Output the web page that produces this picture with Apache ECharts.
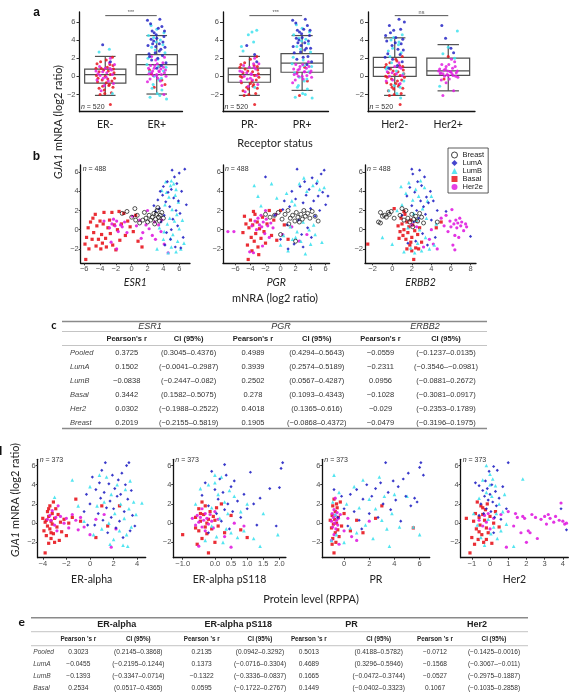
<!DOCTYPE html>
<html>
<head>
<meta charset="utf-8">
<script src="https://cdn.jsdelivr.net/npm/echarts@6/dist/echarts.min.js"></script>
<style>
  html, body { margin: 0; padding: 0; background: #fff; }
  #main { width: 571px; height: 699px; }
</style>
</head>
<body>
<div id="main"></div>
<script>
// ---------------- data ----------------
const SUBTYPES = ['Breast', 'LumA', 'LumB', 'Basal', 'Her2e'];

// a: receptor status boxplots (GJA1 log2 ratio)
const aCats = [['ER-', 'ER+'], ['PR-', 'PR+'], ['Her2-', 'Her2+']];
// [min, q1, median, q3, max]
const aBox = [
  [[-2.1, -0.75, 0.2, 0.8, 2.2], [-1.95, 0.2, 1.3, 2.4, 4.5]],
  [[-2.1, -0.65, 0.2, 0.9, 2.2], [-1.55, 0.45, 1.45, 2.5, 4.5]],
  [[-2.1, 0.0, 1.0, 2.1, 4.25], [-1.6, 0.1, 0.6, 2.0, 3.5]]
];
const aSig = ['***', '***', 'ns'];
const aSigY = 6.7;
const aN = 520;

// jittered points: [category position, GJA1]
const erBasal = [[-0.12,0.5],[0.05,-0.3],[0.15,1.2],[-0.05,-1.1],[0.1,0.2],[-0.15,-0.6],[0.02,1.8],[0.12,-1.8],[-0.08,0.9],[0.18,-0.2],[-0.1,-2.0],[0.06,0.6],[-0.02,-1.5],[0.14,2.1],[-0.16,1.4],[0.08,-0.9],[0.0,0.0],[-0.06,-0.4],[0.1,-3.1],[0.16,0.8],[-0.12,-1.3],[0.04,1.0],[0.9,0.3],[1.1,-0.4],[1.05,1.1],[0.95,-1.2],
  [-0.17,0.1],[0.07,-1.0],[-0.03,0.7],[0.13,-0.5],[-0.09,1.6],[0.17,0.4],[-0.14,-0.2],[0.02,-0.7],[0.09,1.3],[-0.01,-1.9],[0.15,-1.2],[-0.18,0.9],[1.16,-0.9],[0.86,0.7]];
const erHer2e = [[0.03,0.4],[-0.1,0.1],[0.12,0.7],[-0.04,-0.2],[0.08,1.5],[-0.14,0.3],[0.16,-0.8],[0.0,0.9],[-0.08,-1.6],[0.1,2.0],[0.06,-0.5],[-0.18,0.6],[0.85,0.3],[0.92,0.6],[1.0,0.1],[1.08,0.8],[1.15,0.4],[0.88,1.2],[1.02,-0.2],[1.12,1.5],[0.95,0.9],[1.18,0.0],[0.82,-0.6],[1.05,0.5],[0.98,1.8],[1.1,-1.0],[0.9,2.2],[1.14,-2.0],[1.0,0.2],
  [-0.05,0.5],[0.14,0.2],[-0.16,-0.4],[0.09,0.9],[-0.11,1.1],[0.02,-0.1],[0.18,1.3],[-0.02,-1.0],[0.84,0.9],[0.9,0.4],[0.96,1.2],[1.04,0.6],[1.09,0.2],[1.13,1.0],[1.17,0.7],[0.87,-0.3],[0.93,0.1],[1.01,1.4],[1.07,-0.5],[1.15,2.1]];
const erLumA = [[-0.05,3.5],[0.1,1.6],[0.85,2.5],[0.92,3.6],[1.0,4.2],[1.08,3.0],[1.15,5.0],[0.88,5.8],[1.02,2.0],[1.12,3.8],[0.95,4.8],[1.18,1.5],[0.82,6.2],[1.05,2.8],[0.98,3.3],[1.1,5.5],[0.9,1.8],[1.14,4.4],[1.0,0.9],[0.86,2.2],[1.06,6.3],[0.94,3.9],
  [0.83,3.4],[0.89,4.1],[0.97,2.6],[1.03,5.3],[1.09,1.2],[1.16,3.2],[0.91,5.0],[1.11,2.3],[0.99,4.6],[1.05,3.6]];
const erLumB = [[0.08,3.0],[-0.12,2.7],[0.14,-1.9],[0.84,4.5],[0.9,3.2],[1.03,1.1],[1.1,-1.5],[1.16,2.6],[0.87,-2.3],[1.0,5.2],[1.13,0.6],[0.93,-0.9],[1.07,4.0],[0.81,1.3],[1.19,-2.5],[0.97,2.9],[1.04,-0.4],[0.89,5.6],[1.12,3.5],[1.01,-1.9],[0.95,0.0],
  [0.83,2.0],[0.91,-1.3],[0.99,3.8],[1.06,-2.1],[1.14,4.8],[0.86,0.5],[1.02,1.9],[1.18,1.0],[0.94,4.3],[1.09,-0.2]];

const prBasal = [[-0.12,0.4],[0.05,-0.5],[0.15,1.1],[-0.05,-1.2],[0.1,0.1],[-0.15,-0.7],[0.02,1.9],[0.12,-1.9],[-0.08,0.8],[0.18,-0.1],[-0.1,-2.1],[0.06,0.5],[-0.02,-1.4],[0.14,2.2],[-0.16,1.3],[0.08,-0.9],[0.1,-3.1],[0.16,0.7],[-0.12,-1.6],[0.9,0.4],[1.1,-0.5],[1.05,1.0],[0.95,-2.1],
  [-0.17,0.0],[0.07,-1.1],[-0.03,0.6],[0.13,-0.4],[-0.09,1.5],[0.17,0.3],[-0.14,-0.1],[0.02,-0.8],[0.09,1.2],[-0.01,-2.0],[0.15,-1.3],[-0.18,1.0]];
const prHer2e = [[0.03,0.3],[-0.1,0.0],[0.12,0.8],[-0.04,-0.3],[0.08,1.4],[-0.14,0.5],[0.16,-0.9],[0.0,1.0],[-0.08,-1.7],[0.1,2.0],[0.06,-0.4],[-0.18,0.6],[0.04,0.2],[0.85,0.2],[0.92,0.7],[1.0,0.0],[1.08,0.9],[1.15,0.4],[0.88,1.3],[1.02,-0.3],[1.12,1.6],[0.95,0.8],[1.18,-0.1],[0.82,-0.7],[1.05,0.5],
  [-0.05,0.4],[0.14,0.1],[-0.16,-0.5],[0.09,1.0],[-0.11,1.2],[0.02,-0.2],[0.18,1.4],[-0.02,-1.1],[0.84,0.8],[0.9,0.3],[0.96,1.1],[1.04,0.5],[1.09,0.1],[1.13,1.1],[1.17,0.6],[0.87,-0.4],[0.93,0.0],[1.01,1.3]];
const prLumA = [[-0.05,3.4],[0.1,2.4],[0.14,1.6],[0.85,2.6],[0.92,3.7],[1.0,4.3],[1.08,3.1],[1.15,5.1],[0.88,5.9],[1.02,2.1],[1.12,3.9],[0.95,4.9],[1.18,1.6],[0.82,6.2],[1.05,2.9],[0.98,3.4],[1.1,5.6],[0.9,1.9],[1.14,4.5],[1.06,6.3],[0.94,4.0],
  [0.83,3.3],[0.89,4.2],[0.97,2.7],[1.03,5.2],[1.09,1.3],[1.16,3.1],[0.91,5.1],[1.11,2.2],[0.99,4.7],[1.05,3.7]];
const prLumB = [[0.08,3.8],[-0.12,2.8],[0.14,5.1],[-0.02,4.6],[0.1,-1.2],[0.84,4.6],[0.9,3.3],[1.03,1.2],[1.1,-1.4],[1.16,2.7],[0.87,-2.3],[1.0,5.3],[1.13,0.5],[0.93,-1.0],[1.07,4.1],[0.81,1.4],[1.19,-2.4],[0.97,3.0],[1.04,-0.5],[0.89,5.7],[1.12,3.6],[1.01,-1.9],[0.95,-0.1],
  [0.83,2.1],[0.91,-1.2],[0.99,3.9],[1.06,-2.0],[1.14,4.9],[0.86,0.4],[1.02,1.8],[1.18,1.1],[0.94,4.2],[1.09,-0.3],[-0.15,3.3],[0.05,4.9]];

const her2Basal = [[-0.12,0.4],[0.05,-0.5],[0.15,1.1],[-0.05,-1.2],[0.1,0.1],[-0.15,-0.7],[0.02,1.9],[0.12,-1.9],[-0.08,0.8],[0.18,-0.1],[-0.1,-2.1],[0.06,0.5],[-0.02,-1.4],[0.14,2.2],[-0.16,1.3],[0.08,-0.9],[0.1,-3.1],[0.16,0.7],[-0.12,-1.6],[0.0,0.2],[-0.06,-0.3],[1.0,2.2],[0.92,-0.3],
  [-0.17,0.0],[0.07,-1.1],[-0.03,0.6],[0.13,-0.4],[-0.09,1.5],[0.17,0.3],[-0.14,-0.1],[0.02,-0.8],[0.09,1.2],[-0.01,-2.0],[0.15,-1.3],[-0.18,1.0],[0.04,1.7],[-0.07,-0.9]];
const her2Her2e = [[0.03,0.3],[-0.1,0.0],[0.12,0.9],[-0.04,-0.4],[0.08,1.5],[-0.14,0.5],[0.0,1.1],[0.1,-0.8],[0.85,0.3],[0.92,0.7],[1.0,0.1],[1.08,0.9],[1.15,0.4],[0.88,1.3],[1.02,-0.3],[1.12,1.6],[0.95,0.8],[1.18,-0.1],[0.82,0.6],[1.05,0.5],[0.98,0.2],[1.1,-1.6],[0.9,-2.1],[1.06,1.9],[0.86,0.4],[1.14,0.0],[0.96,-0.7],
  [-0.05,0.4],[0.14,0.1],[-0.16,-0.5],[0.09,1.0],[0.84,0.8],[0.9,0.3],[0.96,1.1],[1.04,0.5],[1.09,0.1],[1.13,1.1],[1.17,0.6],[0.87,-0.4],[0.93,0.0],[1.01,1.3],[0.99,0.6],[1.07,0.3]];
const her2LumA = [[-0.05,3.4],[0.1,2.4],[0.14,1.6],[-0.15,3.9],[0.02,4.3],[-0.1,5.6],[0.08,6.3],[0.16,2.9],[-0.02,5.1],[0.12,3.6],[-0.18,2.1],[0.05,1.2],[-0.08,4.8],[0.18,6.0],[0.95,4.2],[1.1,2.6],[1.05,3.1],[0.88,5.6],
  [-0.13,2.5],[0.06,3.0],[-0.04,1.9],[0.15,4.1],[-0.11,0.9],[0.01,3.7],[0.11,5.2],[-0.17,4.5]];
const her2LumB = [[0.08,3.8],[-0.12,2.8],[0.14,4.6],[-0.02,4.3],[0.1,-1.2],[-0.06,1.5],[0.04,-1.9],[-0.16,0.8],[0.17,-0.5],[-0.09,2.2],[0.11,-2.4],[-0.04,3.1],[0.9,2.5],[1.12,2.0],[1.0,3.2],[1.17,5.0],[0.84,-1.1],
  [0.07,3.5],[-0.14,1.0],[0.16,0.3],[-0.01,-1.0],[0.12,2.6],[-0.07,4.0],[0.03,0.6],[-0.11,-1.6]];

// b: mRNA scatter [gene log2 ratio, GJA1 log2 ratio]
const bGenes = ['ESR1', 'PGR', 'ERBB2'];
const bN = 488;
const esr1Basal = [[-5.9,-1.5],[-5.8,-3.1],[-5.7,-0.8],[-5.5,0.2],[-5.4,-2.0],[-5.2,0.8],[-5.0,-1.0],[-4.8,-0.3],[-4.6,1.6],[-4.5,-1.7],[-4.4,0.4],[-4.2,-1.0],[-4.0,0.9],[-3.9,-2.0],[-3.8,-0.5],[-3.6,0.6],[-3.5,1.8],[-3.3,-0.9],[-3.2,-1.8],[-3.0,0.2],[-2.8,1.0],[-2.7,-0.4],[-2.5,1.8],[-2.4,-1.6],[-2.2,0.5],[-2.0,-2.1],[-1.8,0.0],[-1.6,1.9],[-1.5,-1.1],[-1.3,0.6],[-1.0,1.7],[-0.8,-0.6],[-0.5,0.9],[-0.2,0.3],[0.2,-0.2],[0.5,1.5],[0.8,-1.2],[1.3,-1.8],[-4.9,1.2],[-3.7,-1.4]];
const esr1Her2e = [[-2.8,0.2],[-2.5,0.6],[-2.3,1.1],[-2.1,0.4],[-1.9,0.9],[-1.7,-0.2],[-1.4,0.5],[-1.2,0.3],[-2.6,-1.3],[-1.9,-2.0],[-0.9,0.8],[-0.6,-0.3],[0.1,1.4],[0.6,0.4],[1.0,1.0],[1.4,-0.3],[1.8,0.5],[2.2,0.1],[2.6,-0.6],[3.0,-1.0],[3.4,0.5],[3.7,-0.2],[4.1,-1.5],[4.6,-2.4],[2.0,2.0],[2.9,0.8],[1.2,-0.9],[3.8,1.0],[-3.5,0.9]];
const esr1Breast = [[-1.2,1.7],[-0.6,1.9],[0.0,1.3],[0.4,2.2],[0.5,1.0],[0.7,1.5],[1.0,0.7],[1.4,1.0],[1.8,1.2],[2.0,0.8],[2.2,1.5],[2.4,1.0],[2.6,1.3],[2.8,1.7],[3.0,1.1],[3.1,1.6],[3.2,2.0],[3.4,1.3],[3.5,0.9],[3.6,1.5],[3.8,1.8],[4.0,1.2],[2.9,0.6],[3.3,2.3],[1.6,1.8]];
const esr1LumA = [[2.8,2.5],[3.0,1.9],[3.3,3.1],[3.5,2.2],[3.7,0.8],[3.9,3.6],[4.0,4.5],[4.1,1.5],[4.3,2.9],[4.4,-0.3],[4.5,5.0],[4.6,3.9],[4.8,2.4],[4.9,-1.0],[5.0,4.2],[5.1,6.2],[5.2,1.1],[5.3,3.3],[5.4,5.5],[5.5,-1.8],[5.6,2.0],[5.7,4.8],[5.8,0.4],[5.9,3.0],[6.0,5.9],[6.1,1.7],[6.3,4.0],[6.5,-0.8],[6.7,6.3],[6.9,2.6],[3.6,4.0],[4.2,-1.6],[5.0,0.0],[6.2,-1.9]];
const esr1LumB = [[3.2,-2.0],[3.5,0.2],[3.8,4.1],[4.0,-1.0],[4.2,2.6],[4.3,5.0],[4.5,0.6],[4.6,-2.4],[4.7,3.4],[4.8,1.2],[4.9,4.6],[5.0,-1.8],[5.1,2.1],[5.2,-0.5],[5.3,4.8],[5.4,0.9],[5.5,3.6],[5.6,-2.3],[5.7,1.6],[5.8,-1.2],[5.9,2.9],[6.0,0.1],[6.2,-2.0],[6.4,1.0],[6.6,-1.4],[4.4,3.9],[5.0,5.1],[5.6,4.2],[4.1,-0.2],[4.9,-0.9]];

const pgrBasal = [[-5.0,-0.3],[-4.6,0.6],[-4.4,-1.6],[-4.3,-3.1],[-4.2,0.2],[-4.0,1.0],[-3.9,-0.8],[-3.8,-2.2],[-3.7,0.5],[-3.5,-1.2],[-3.4,1.6],[-3.3,-0.4],[-3.1,0.8],[-3.0,-1.8],[-2.8,0.1],[-2.6,-0.9],[-2.4,1.3],[-2.2,-0.2],[-2.0,-1.4],[-1.8,0.6],[-1.5,2.0],[-1.2,-0.6],[-0.9,1.0],[-0.5,-1.1],[0.0,2.0],[0.5,0.5],[1.0,-1.0],[-4.8,1.4],[-3.6,1.9],[-2.9,-2.6]];
const pgrHer2e = [[-7.0,-0.2],[-6.2,-0.2],[-4.1,-2.3],[-3.8,0.4],[-3.4,0.9],[-3.2,0.0],[-3.0,1.2],[-2.8,0.5],[-2.6,1.5],[-2.5,0.3],[-2.3,0.8],[-2.1,-0.4],[-1.9,1.1],[-1.7,0.4],[-1.5,-0.8],[-1.3,0.7],[-1.0,0.2],[-3.6,-2.4],[-2.4,-1.7],[-0.6,1.6],[0.3,-0.5],[1.5,0.3],[2.5,-1.2],[3.5,-0.5],[-2.0,2.0]];
const pgrBreast = [[-2.0,1.6],[-1.4,1.3],[-0.8,1.5],[-0.3,1.8],[0.2,1.1],[0.6,1.6],[1.0,2.0],[1.3,1.2],[1.6,1.5],[1.9,0.9],[2.1,1.8],[2.3,1.3],[2.5,0.8],[2.7,1.6],[2.9,1.1],[3.1,2.0],[3.3,1.4],[3.6,1.7],[3.9,1.2],[4.2,1.9],[4.6,1.4],[5.0,0.9],[1.1,0.6],[2.0,-1.2],[0.0,-0.5]];
const pgrLumA = [[-2.0,5.5],[-0.8,1.5],[0.0,-1.0],[0.5,3.0],[0.9,0.5],[1.2,2.4],[1.5,4.0],[1.8,-1.5],[2.0,3.2],[2.2,6.3],[2.4,1.0],[2.6,4.5],[2.8,-0.5],[3.0,2.8],[3.2,5.0],[3.4,3.6],[3.6,0.2],[3.8,4.2],[4.0,2.2],[4.2,5.4],[4.4,3.0],[4.6,1.4],[4.8,4.8],[5.0,3.5],[5.2,2.0],[5.4,5.8],[5.6,3.9],[5.8,6.2],[6.0,2.6],[6.3,3.5],[1.0,-2.0],[3.0,-1.8],[4.1,-0.8],[0.3,2.1]];
const pgrLumB = [[-3.5,4.6],[-3.0,3.5],[-2.6,2.5],[-1.2,4.8],[-0.5,3.3],[0.0,-1.6],[0.4,-0.6],[0.8,3.8],[1.0,-2.2],[1.3,0.3],[1.6,-1.0],[1.9,2.6],[2.2,-0.2],[2.5,4.8],[2.7,-1.2],[3.0,0.8],[3.3,-2.5],[3.5,4.0],[3.8,0.0],[4.0,-1.5],[4.3,4.6],[4.6,-0.5],[4.9,5.1],[5.2,4.2],[5.5,-1.3],[5.8,4.4],[3.1,5.4],[2.0,-0.8],[4.4,0.5],[1.5,3.0]];

const erbb2Basal = [[-2.5,-1.5],[0.2,2.2],[0.6,0.4],[0.8,-0.2],[0.9,1.2],[1.0,0.6],[1.1,-0.6],[1.2,0.0],[1.3,1.6],[1.4,-1.0],[1.5,0.8],[1.6,-0.3],[1.7,0.3],[1.8,-1.6],[1.9,1.0],[2.0,-0.8],[2.1,0.5],[2.2,-3.1],[2.3,-0.1],[2.4,-1.9],[2.5,0.9],[2.6,-0.5],[2.8,0.2],[3.0,-1.3],[1.5,-2.0],[2.0,-2.2],[1.2,1.9],[0.7,-0.9],[2.7,-2.0],[1.9,-1.3],[5.0,0.8],[4.5,0.2]];
const erbb2Her2e = [[3.8,-1.0],[4.2,-1.5],[4.6,-2.0],[5.0,1.2],[5.3,0.4],[5.5,1.5],[5.7,-0.2],[5.9,0.9],[6.0,0.3],[6.1,2.1],[6.3,0.6],[6.4,-0.6],[6.5,1.0],[6.6,0.2],[6.7,0.7],[6.8,-0.8],[6.9,1.2],[7.0,0.4],[7.1,0.8],[7.3,-0.1],[7.5,0.6],[6.2,-1.6],[6.4,-2.1],[3.2,-1.8],[2.5,0.3],[2.0,0.5],[4.0,0.0],[7.6,0.3]];
const erbb2Breast = [[-1.4,0.8],[-1.2,1.8],[-1.0,1.4],[-0.8,1.5],[-0.6,1.3],[-0.4,1.8],[-0.3,1.6],[-0.1,1.9],[0.2,1.2],[0.8,1.5],[1.2,1.0],[1.4,2.0],[1.6,1.2],[1.8,0.8],[2.0,1.6],[2.2,1.1],[2.4,1.4],[2.6,0.9],[2.8,1.7],[3.0,1.3],[3.2,0.7],[2.1,0.3],[4.6,0.8],[-1.2,0.7],[1.0,2.2]];
const erbb2LumA = [[1.0,1.5],[1.5,3.5],[1.8,4.4],[2.0,2.5],[2.1,5.8],[2.2,0.8],[2.3,3.9],[2.4,-1.2],[2.5,2.0],[2.6,5.0],[2.7,1.2],[2.8,6.2],[2.9,3.0],[3.0,4.6],[3.1,-0.4],[3.2,2.4],[3.3,5.5],[3.4,1.6],[3.5,3.4],[3.6,-1.6],[3.7,2.8],[3.9,4.0],[4.0,1.0],[4.2,3.0],[4.4,-0.8],[4.6,2.0],[5.5,1.9],[8.0,-0.7],[1.6,-1.4],[2.0,6.3]];
const erbb2LumB = [[-1.0,-0.8],[0.0,-1.5],[0.5,2.0],[0.9,4.5],[1.2,-2.3],[1.4,3.8],[1.6,0.2],[1.7,4.9],[1.9,-1.9],[2.1,3.1],[2.3,-2.4],[2.4,4.2],[2.5,1.0],[2.6,-1.4],[2.7,3.5],[2.8,0.0],[2.9,5.1],[3.0,-2.2],[3.1,2.2],[3.3,4.4],[3.4,-0.8],[3.6,3.0],[3.8,-2.0],[4.0,3.5],[4.3,-1.6],[4.5,0.6],[1.0,2.6],[2.2,1.7],[3.5,1.2]];

// c: correlation table (mRNA)
const cGroups = ['ESR1', 'PGR', 'ERBB2'];
const cRows = ['Pooled', 'LumA', 'LumB', 'Basal', 'Her2', 'Breast'];
const cR = [
  [0.3725, 0.4989, -0.0559],
  [0.1502, 0.3939, -0.2311],
  [-0.0838, 0.2502, 0.0956],
  [0.3442, 0.278, -0.1028],
  [0.0302, 0.4018, -0.029],
  [0.2019, 0.1905, -0.0479]
];
const cCI = [
  [[0.3045, 0.4376], [0.4294, 0.5643], [-0.1237, 0.0135]],
  [[-0.0041, 0.2987], [0.2574, 0.5189], [-0.3546, -0.0981]],
  [[-0.2447, 0.082], [0.0567, 0.4287], [-0.0881, 0.2672]],
  [[0.1582, 0.5075], [0.1093, 0.4343], [-0.3081, 0.0917]],
  [[-0.1988, 0.2522], [0.1365, 0.616], [-0.2353, 0.1789]],
  [[-0.2155, 0.5819], [-0.0868, 0.4372], [-0.3196, 0.1975]]
];

// d: protein scatter [RPPA level, GJA1 log2 ratio]
const dProteins = ['ER-alpha', 'ER-alpha pS118', 'PR', 'Her2'];
const dN = 373;
const eraBasal = [[-4.0,0.5],[-3.9,-0.8],[-3.8,-3.1],[-3.8,0.1],[-3.7,-1.3],[-3.6,1.2],[-3.6,-0.3],[-3.5,0.7],[-3.5,-2.1],[-3.4,1.8],[-3.4,-0.6],[-3.3,0.2],[-3.3,-1.6],[-3.2,1.0],[-3.2,-0.1],[-3.1,2.2],[-3.1,-1.1],[-3.0,0.5],[-3.0,-2.0],[-2.9,1.5],[-2.8,-0.4],[-2.7,0.9],[-2.6,-1.8],[-2.5,0.1],[-2.4,-0.9],[-2.2,0.4],[-2.0,-1.3],[-1.8,0.0],[-1.5,0.6],[-1.2,2.5],[-0.8,0.2],[0.5,-1.5],[1.0,1.8],[1.5,-0.3],[2.5,1.8],[-3.7,0.3],[-3.5,1.5],[-3.3,-1.0]];
const eraHer2e = [[-3.6,0.4],[-3.4,0.8],[-3.3,0.3],[-3.2,1.3],[-3.0,-0.2],[-2.9,0.6],[-2.7,1.8],[-2.5,0.7],[-2.2,0.0],[-2.0,0.5],[-1.8,-0.5],[-1.5,0.9],[-1.2,0.3],[-0.8,0.6],[-0.5,-0.4],[0.0,-1.2],[0.5,0.4],[1.2,0.9],[1.8,-2.5],[2.2,-0.6],[-2.8,-0.8],[-1.0,-0.7]];
const eraLumA = [[-0.5,1.2],[-0.3,3.0],[0.0,2.0],[0.2,4.8],[0.4,-0.2],[0.5,3.5],[0.7,1.0],[0.9,2.6],[1.0,5.5],[1.1,0.3],[1.2,3.2],[1.4,1.6],[1.5,-1.0],[1.6,4.1],[1.7,2.3],[1.8,0.6],[1.9,5.0],[2.0,1.5],[2.1,3.6],[2.2,-0.5],[2.3,2.8],[2.4,4.5],[2.5,0.2],[2.6,3.0],[2.7,5.2],[2.8,-1.5],[2.9,1.2],[3.0,4.0],[3.1,6.0],[3.2,2.5],[3.3,6.3],[3.4,-0.8],[3.5,3.4],[3.6,0.8],[3.8,-0.3],[-0.2,-0.2],[1.3,6.3],[0.8,4.2]];
const eraLumB = [[-3.0,2.7],[-1.5,4.5],[-1.0,1.8],[-0.5,0.2],[0.0,3.8],[0.3,-1.2],[0.6,1.8],[0.8,5.0],[1.0,-0.6],[1.2,2.2],[1.4,4.8],[1.6,0.0],[1.8,3.0],[2.0,-1.7],[2.1,1.0],[2.3,4.0],[2.5,-0.8],[2.6,2.0],[2.8,-2.3],[2.9,0.5],[3.0,3.5],[3.1,-1.2],[3.3,1.5],[3.4,4.4],[3.5,-0.4],[3.7,2.2],[3.9,0.9],[4.4,2.1],[1.7,-2.2],[3.2,-2.4]];

const ps118Basal = [[-1.0,-1.2],[-0.6,0.6],[-0.55,-2.2],[-0.5,1.5],[-0.5,-0.8],[-0.45,0.2],[-0.4,-1.6],[-0.4,2.2],[-0.35,0.9],[-0.3,-0.4],[-0.3,1.8],[-0.25,-1.1],[-0.2,0.4],[-0.2,-3.1],[-0.15,1.2],[-0.1,-0.6],[-0.05,0.7],[0.0,-2.0],[0.05,1.6],[0.1,-0.3],[0.2,2.0],[0.3,-1.0],[0.5,0.8],[-0.6,-0.5],[-0.45,1.0],[-0.25,0.0],[0.0,0.3],[0.8,-0.7],[1.0,-1.5]];
const ps118Her2e = [[-0.7,0.5],[-0.6,-0.2],[-0.55,0.8],[-0.5,0.1],[-0.45,0.6],[-0.4,-0.4],[-0.35,0.3],[-0.3,1.0],[-0.3,-0.8],[-0.25,0.5],[-0.2,-0.1],[-0.15,0.9],[-0.1,0.2],[-0.05,-0.5],[0.0,1.2],[0.1,0.4],[-0.5,-2.4],[0.3,-1.4],[0.6,0.0],[0.9,-0.3],[-0.4,1.5],[0.5,-2.5]];
const ps118LumA = [[-0.4,2.9],[-0.3,4.2],[-0.2,1.8],[-0.1,5.4],[0.0,3.5],[0.05,1.0],[0.1,2.5],[0.15,4.6],[0.2,0.2],[0.25,3.2],[0.3,1.4],[0.35,5.0],[0.4,2.0],[0.45,-0.6],[0.5,3.8],[0.55,1.2],[0.6,4.4],[0.7,2.3],[0.8,0.6],[0.9,3.0],[1.0,1.5],[1.1,5.3],[1.2,2.0],[1.3,-0.2],[1.4,2.6],[1.7,3.6],[1.9,-0.3],[2.0,3.7],[2.1,6.3],[2.05,5.7],[0.3,6.1],[-0.2,-1.0]];
const ps118LumB = [[-0.6,2.0],[-0.45,3.6],[-0.3,-1.8],[-0.2,4.0],[-0.1,-0.3],[0.0,5.0],[0.05,-1.4],[0.1,3.0],[0.15,0.5],[0.2,4.8],[0.25,-2.0],[0.3,2.2],[0.35,-0.6],[0.4,1.0],[0.5,-1.0],[0.6,2.8],[0.7,-1.5],[0.8,1.2],[0.9,-0.8],[1.0,2.0],[1.2,-1.6],[1.4,-2.4],[1.5,1.0],[1.95,-1.2],[0.0,4.2],[-0.1,1.6],[0.45,3.4]];

const prpBasal = [[-1.0,-0.5],[-0.95,0.8],[-0.9,-1.6],[-0.9,1.8],[-0.85,-0.1],[-0.8,2.5],[-0.8,-3.1],[-0.75,0.4],[-0.7,-1.0],[-0.7,1.2],[-0.65,-2.0],[-0.6,0.0],[-0.55,1.6],[-0.5,-0.7],[-0.45,0.6],[-0.4,-1.4],[-0.3,2.2],[-0.2,-0.3],[0.0,1.0],[0.5,-0.8],[1.0,0.3],[1.5,-1.0],[2.5,0.5],[3.0,1.8],[5.5,-0.5],[-0.95,-2.2],[-0.6,2.0],[-1.1,0.3]];
const prpHer2e = [[-1.0,0.2],[-0.95,1.0],[-0.9,-0.4],[-0.85,0.6],[-0.8,-1.2],[-0.8,1.4],[-0.75,0.0],[-0.7,0.8],[-0.65,-0.6],[-0.6,0.3],[-0.55,1.1],[-0.5,-0.2],[-0.45,0.5],[-0.4,-2.2],[-0.3,0.9],[0.0,-0.8],[0.3,0.5],[1.0,-1.8],[2.0,0.2],[-1.0,-1.8],[-0.7,2.6],[0.6,-1.4]];
const prpLumA = [[-0.5,0.6],[-0.2,2.8],[0.0,1.5],[0.3,-0.3],[0.5,3.0],[0.8,1.2],[1.0,3.5],[1.2,0.3],[1.5,2.5],[1.8,4.0],[2.0,1.0],[2.2,2.8],[2.5,3.6],[2.7,0.6],[2.9,4.2],[3.1,2.0],[3.3,6.3],[3.5,3.2],[3.7,1.4],[3.9,4.4],[4.1,2.4],[4.3,3.8],[4.5,0.2],[4.7,4.6],[4.9,2.8],[5.1,5.2],[5.3,1.8],[5.6,2.6],[5.8,2.2],[6.0,5.8],[6.1,6.3],[6.3,5.0],[-0.8,3.5],[1.4,-0.6]];
const prpLumB = [[-1.0,-1.8],[-0.9,2.2],[-0.8,5.0],[-0.6,-1.2],[-0.4,3.2],[0.0,-2.0],[0.2,2.0],[0.5,-0.5],[0.8,3.8],[1.0,-1.0],[1.2,1.6],[1.5,4.5],[1.7,-0.2],[2.0,2.5],[2.3,-1.6],[2.5,1.5],[2.8,4.8],[3.0,0.3],[3.2,2.8],[3.4,-0.6],[3.6,-2.4],[3.8,1.0],[4.0,3.0],[4.4,-0.4],[5.5,-0.4],[6.0,-1.2],[5.0,2.8],[-0.7,0.9]];

const her2pBasal = [[-1.3,0.5],[-1.1,-3.1],[-1.0,-1.5],[-0.9,0.2],[-0.85,-2.2],[-0.8,1.0],[-0.75,-0.6],[-0.7,2.2],[-0.65,-1.7],[-0.6,0.6],[-0.55,-0.2],[-0.5,1.8],[-0.45,-1.2],[-0.4,0.9],[-0.35,-2.0],[-0.3,0.3],[-0.25,1.4],[-0.2,-0.5],[-0.15,2.0],[-0.1,-1.0],[0.0,0.7],[0.1,-2.1],[0.2,0.0],[0.3,1.2],[-0.6,-0.9],[-0.4,1.6],[-0.2,-1.7],[0.5,-0.4]];
const her2pHer2e = [[-0.6,0.3],[-0.4,-0.3],[-0.3,0.8],[-0.2,0.1],[-0.1,1.0],[0.0,-0.6],[0.2,0.5],[0.6,0.9],[0.9,-2.5],[1.0,1.2],[1.3,-0.3],[1.5,0.6],[1.7,-1.0],[1.8,0.7],[1.9,0.5],[2.0,-2.0],[2.1,-0.8],[2.3,0.9],[2.5,0.6],[2.6,-1.6],[2.8,0.4],[3.0,0.7],[3.1,-0.1],[3.2,0.9],[3.3,0.5],[3.5,0.1],[3.6,0.7],[3.8,0.3],[3.9,2.1],[4.0,0.2],[4.1,-0.1],[4.2,0.0],[2.2,-1.0],[1.4,1.0]];
const her2pLumA = [[-0.8,4.2],[-0.6,3.9],[-0.5,2.0],[-0.4,3.4],[-0.35,1.0],[-0.3,2.8],[-0.25,4.4],[-0.2,1.5],[-0.15,3.6],[-0.1,2.4],[-0.05,5.4],[0.0,3.0],[0.05,1.2],[0.1,4.0],[0.15,2.2],[0.2,5.9],[0.25,0.6],[0.3,3.3],[0.35,1.8],[0.4,5.5],[0.5,2.6],[0.6,0.4],[0.7,3.8],[0.9,1.5],[1.0,6.3],[0.2,-1.0],[-0.6,0.8],[4.2,-0.7],[3.9,1.5]];
const her2pLumB = [[-0.9,1.0],[-0.7,-0.2],[-0.6,2.6],[-0.5,-1.5],[-0.4,4.5],[-0.3,-2.3],[-0.2,3.2],[-0.1,0.4],[0.0,5.1],[0.05,-1.1],[0.1,2.8],[0.15,4.6],[0.2,-0.4],[0.3,3.9],[0.35,1.0],[0.4,-1.6],[0.5,2.0],[0.6,-0.8],[0.7,1.2],[0.8,3.0],[0.9,-0.1],[1.3,-2.4],[1.8,4.6],[0.0,4.0],[-0.2,6.0]];

// e: correlation table (protein)
const eRows = ['Pooled', 'LumA', 'LumB', 'Basal'];
const eR = [
  [0.3023, 0.2135, 0.5013, -0.0712],
  [-0.0455, 0.1373, 0.4689, -0.1568],
  [-0.1393, -0.1322, 0.1665, -0.0527],
  [0.2534, 0.0595, 0.1449, 0.1067]
];
const eCI = [
  [[0.2145, 0.3868], [0.0942, 0.3292], [0.4188, 0.5782], [-0.1425, 0.0016]],
  [[-0.2195, 0.1244], [-0.0716, 0.3304], [0.3296, 0.5946], [-0.3067, -0.011]],
  [[-0.3347, 0.0714], [-0.3336, 0.0837], [-0.0472, 0.3744], [-0.2975, 0.1887]],
  [[0.0517, 0.4365], [-0.1722, 0.2767], [-0.0402, 0.3323], [-0.1035, 0.2858]]
];

// tick values
const gjaTicks = [-2, 0, 2, 4, 6];
const bXTicks = [[-6, -4, -2, 0, 2, 4, 6], [-6, -4, -2, 0, 2, 4, 6], [-2, 0, 2, 4, 6, 8]];
const dXTicks = [[-4, -2, 0, 2, 4], [-1, 0, 0.5, 1, 1.5, 2], [0, 2, 4, 6], [-1, 0, 1, 2, 3, 4]];

// ---------------- styles / layout ----------------
const SANS = '"Liberation Sans", Arial, sans-serif';
const LATO = 'Lato, "Open Sans", sans-serif';
const COLOR = { Breast: '#141414', LumA: '#2424c4', LumB: '#40e2ee', Basal: '#e8161e', Her2e: '#e01ee0' };
const SYMBOL = { Breast: 'circle', LumA: 'diamond', LumB: 'triangle', Basal: 'rect', Her2e: 'circle' };

const aLay = { top: 12, height: 99.7, y: [-3.9, 7.1], x: [[79.5, 103], [223, 105.5], [368, 107]] };
const bLay = { top: 165, height: 98.3, y: [-3.5, 6.74], x: [[80.7, 109.3], [223, 106.6], [365, 111]],
  range: [[-6.44, 7.36], [-7.65, 6.52], [-2.78, 8.56]] };
const dLay = { top: 459.3, height: 98.4, y: [-3.6, 6.65], x: [[37.7, 108], [173.3, 112.6], [322.3, 107.4], [460.7, 107.6]],
  range: [[-4.43, 4.72], [-1.29, 2.2], [-1.73, 6.8], [-1.61, 4.3]] };

const minus = s => String(s).replace(/-/g, '\u2212');

const aSets = [
  { Basal: erBasal, LumB: erLumB, Her2e: erHer2e, LumA: erLumA },
  { Basal: prBasal, LumB: prLumB, Her2e: prHer2e, LumA: prLumA },
  { Basal: her2Basal, LumB: her2LumB, Her2e: her2Her2e, LumA: her2LumA }
];
const bSets = [
  { Basal: esr1Basal, Her2e: esr1Her2e, LumB: esr1LumB, LumA: esr1LumA, Breast: esr1Breast },
  { Basal: pgrBasal, Her2e: pgrHer2e, LumB: pgrLumB, LumA: pgrLumA, Breast: pgrBreast },
  { Basal: erbb2Basal, Her2e: erbb2Her2e, LumB: erbb2LumB, LumA: erbb2LumA, Breast: erbb2Breast }
];
const dSets = [
  { Basal: eraBasal, Her2e: eraHer2e, LumB: eraLumB, LumA: eraLumA },
  { Basal: ps118Basal, Her2e: ps118Her2e, LumB: ps118LumB, LumA: ps118LumA },
  { Basal: prpBasal, Her2e: prpHer2e, LumB: prpLumB, LumA: prpLumA },
  { Basal: her2pBasal, Her2e: her2pHer2e, LumB: her2pLumB, LumA: her2pLumA }
];

const grids = [], xAxes = [], yAxes = [], series = [], graphics = [];

function yAxisFor(gi, range, margin, tickLen) {
  return {
    type: 'value', gridIndex: gi, min: range[0], max: range[1], splitLine: { show: false },
    axisLine: { show: true, onZero: false, lineStyle: { color: '#111', width: 1.3 } },
    axisTick: { show: true, length: tickLen, customValues: gjaTicks, lineStyle: { color: '#333' } },
    axisLabel: { customValues: gjaTicks, fontSize: 7.5, color: '#4d4d4d', fontFamily: SANS, margin: margin, formatter: minus }
  };
}

function valueXAxis(gi, range, ticks, fmt) {
  return {
    type: 'value', gridIndex: gi, min: range[0], max: range[1], splitLine: { show: false },
    axisLine: { show: true, onZero: false, lineStyle: { color: '#111', width: 1.3 } },
    axisTick: { show: true, length: 2, customValues: ticks, lineStyle: { color: '#333' } },
    axisLabel: { customValues: ticks, fontSize: 7.5, color: '#4d4d4d', fontFamily: SANS, margin: 2, formatter: fmt || minus }
  };
}

function nLabel(x, y, n) {
  graphics.push({
    type: 'text', x: x, y: y,
    style: { text: '{i|n} = ' + n, fontSize: 7, fontFamily: SANS, fill: '#333', verticalAlign: 'middle',
      rich: { i: { fontStyle: 'italic', fontSize: 7, fontFamily: SANS, fill: '#333' } } }
  });
}

// box + whiskers, caps half as wide as the box
function renderBox(params, api) {
  const x = api.value(0);
  const w = api.size([0.8, 0])[0];
  const pMin = api.coord([x, api.value(1)]);
  const pQ1 = api.coord([x, api.value(2)]);
  const pMed = api.coord([x, api.value(3)]);
  const pQ3 = api.coord([x, api.value(4)]);
  const pMax = api.coord([x, api.value(5)]);
  const cx = pMed[0];
  const st = { stroke: '#505050', lineWidth: 1.2, fill: null };
  return {
    type: 'group', children: [
      { type: 'line', shape: { x1: cx, y1: pMin[1], x2: cx, y2: pQ1[1] }, style: st },
      { type: 'line', shape: { x1: cx, y1: pQ3[1], x2: cx, y2: pMax[1] }, style: st },
      { type: 'line', shape: { x1: cx - w / 4, y1: pMin[1], x2: cx + w / 4, y2: pMin[1] }, style: st },
      { type: 'line', shape: { x1: cx - w / 4, y1: pMax[1], x2: cx + w / 4, y2: pMax[1] }, style: st },
      { type: 'rect', shape: { x: cx - w / 2, y: pQ3[1], width: w, height: pQ1[1] - pQ3[1] }, style: { stroke: '#505050', lineWidth: 1.2, fill: 'rgba(255,255,255,0)' } },
      { type: 'line', shape: { x1: cx - w / 2, y1: pMed[1], x2: cx + w / 2, y2: pMed[1] }, style: st }
    ]
  };
}

function makeSig(label) {
  return function (params, api) {
    const p0 = api.coord([api.value(0), api.value(2)]);
    const p1 = api.coord([api.value(1), api.value(2)]);
    return {
      type: 'group', children: [
        { type: 'line', shape: { x1: p0[0], y1: p0[1], x2: p1[0], y2: p1[1] }, style: { stroke: '#555', lineWidth: 1 } },
        { type: 'text', style: { text: label, x: (p0[0] + p1[0]) / 2, y: p0[1] - 0.5, align: 'center', verticalAlign: 'bottom',
          fontSize: 5.5, fontFamily: SANS, fill: '#555' } }
      ]
    };
  };
}

// ---- panel a ----
aLay.x.forEach(function (gx, i) {
  const gi = grids.length;
  grids.push({ left: gx[0], top: aLay.top, width: gx[1], height: aLay.height });
  xAxes.push({
    type: 'category', gridIndex: gi, data: aCats[i], boundaryGap: true,
    axisLine: { show: true, onZero: false, lineStyle: { color: '#111', width: 1.3 } },
    axisTick: { show: false },
    axisLabel: { fontSize: 10.5, color: '#222', fontFamily: LATO, margin: 7 }
  });
  const valIdx = xAxes.length;
  xAxes.push({ type: 'value', gridIndex: gi, min: -0.5, max: 1.5, show: false });
  const yi = yAxes.length;
  yAxes.push(yAxisFor(gi, aLay.y, 4, 3));

  series.push({
    type: 'custom', xAxisIndex: valIdx, yAxisIndex: yi, renderItem: renderBox, z: 1,
    encode: { x: 0, y: [1, 2, 3, 4, 5] },
    data: aBox[i].map((b, k) => [k].concat(b))
  });
  ['Basal', 'LumB', 'Her2e', 'LumA'].forEach(function (s) {
    series.push({
      type: 'scatter', name: s, xAxisIndex: valIdx, yAxisIndex: yi, z: 2,
      symbol: 'circle', symbolSize: 3, itemStyle: { color: COLOR[s], opacity: 0.85 },
      data: aSets[i][s]
    });
  });
  series.push({
    type: 'custom', xAxisIndex: valIdx, yAxisIndex: yi, renderItem: makeSig(aSig[i]), z: 3,
    encode: { x: [0, 1], y: 2 }, data: [[0, 1, aSigY]]
  });
  nLabel(gx[0] + 1.5, aLay.top + aLay.height - 5, aN);
});

// ---- panel b ----
bLay.x.forEach(function (gx, i) {
  const gi = grids.length;
  grids.push({ left: gx[0], top: bLay.top, width: gx[1], height: bLay.height });
  const xi = xAxes.length;
  const ax = valueXAxis(gi, bLay.range[i], bXTicks[i]);
  ax.name = bGenes[i];
  ax.nameLocation = 'middle';
  ax.nameGap = 14;
  ax.nameTextStyle = { fontFamily: LATO, fontStyle: 'italic', fontSize: 10.5, color: '#222' };
  xAxes.push(ax);
  const yi = yAxes.length;
  yAxes.push(yAxisFor(gi, bLay.y, 2, 2));
  ['Basal', 'Her2e', 'LumB', 'LumA', 'Breast'].forEach(function (s) {
    const hollow = s === 'Breast';
    series.push({
      type: 'scatter', name: s, xAxisIndex: xi, yAxisIndex: yi, z: hollow ? 3 : 2,
      symbol: SYMBOL[s], symbolSize: hollow ? 4 : (s === 'LumB' ? 3.6 : 3.2),
      itemStyle: hollow ? { color: 'rgba(255,255,255,0)', borderColor: COLOR[s], borderWidth: 0.9 }
                        : { color: COLOR[s], opacity: 0.9 },
      data: bSets[i][s]
    });
  });
  nLabel(gx[0] + 2, bLay.top + 4, bN);
});

// ---- panel d ----
dLay.x.forEach(function (gx, i) {
  const gi = grids.length;
  grids.push({ left: gx[0], top: dLay.top, width: gx[1], height: dLay.height });
  const xi = xAxes.length;
  const ax = valueXAxis(gi, dLay.range[i], dXTicks[i], i === 1 ? v => minus(v.toFixed(1)) : minus);
  ax.name = dProteins[i];
  ax.nameLocation = 'middle';
  ax.nameGap = 16;
  ax.nameTextStyle = { fontFamily: LATO, fontSize: 10.5, color: '#222' };
  xAxes.push(ax);
  const yi = yAxes.length;
  yAxes.push(yAxisFor(gi, dLay.y, 2, 2));
  ['Basal', 'Her2e', 'LumB', 'LumA'].forEach(function (s) {
    series.push({
      type: 'scatter', name: s, xAxisIndex: xi, yAxisIndex: yi, z: 2,
      symbol: SYMBOL[s], symbolSize: s === 'LumB' ? 3.6 : 3.2,
      itemStyle: { color: COLOR[s], opacity: 0.9 },
      data: dSets[i][s]
    });
  });
  nLabel(gx[0] + 2, dLay.top + 1, dN);
});

// ---- titles ----
function txt(text, x, y, o) {
  graphics.push({ type: 'text', x: x, y: y, rotation: (o && o.rotation) || 0,
    style: Object.assign({ text: text, align: 'center', verticalAlign: 'middle', fontSize: 11, fontFamily: LATO, fill: '#222' }, o && o.style) });
}
txt('a', 36.5, 13, { style: { fontFamily: SANS, fontWeight: 'bold', fontSize: 12, fill: '#111' } });
txt('b', 36.5, 157, { style: { fontFamily: SANS, fontWeight: 'bold', fontSize: 12, fill: '#111' } });
txt('c', 54, 325, { style: { fontFamily: LATO, fontWeight: 'bold', fontSize: 11, fill: '#111' } });
txt('d', -5, 452, { style: { fontFamily: SANS, fontWeight: 'bold', fontSize: 12, fill: '#111', align: 'left' } });
txt('e', 21.7, 622, { style: { fontFamily: LATO, fontWeight: 'bold', fontSize: 12, fill: '#111' } });
txt('Receptor status', 275, 143);
txt('mNRA (log2 ratio)', 275, 298);
txt('Protein level (RPPA)', 311, 599);
const yTitleRich = { i: { fontStyle: 'italic', fontSize: 11, fontFamily: LATO, fill: '#222' } };
txt('{i|GJA1} mNRA (log2 ratio)', 58, 122, { rotation: Math.PI / 2, style: { rich: yTitleRich } });
txt('{i|GJA1} mNRA (log2 ratio)', 15, 500, { rotation: Math.PI / 2, style: { rich: yTitleRich } });

// ---- tables ----
function hline(x1, x2, y, w, c) {
  graphics.push({ type: 'line', shape: { x1: x1, y1: y, x2: x2, y2: y }, style: { stroke: c, lineWidth: w } });
}
function cell(text, x, y, size, o) {
  graphics.push({ type: 'text', x: x, y: y,
    style: Object.assign({ text: text, align: 'center', verticalAlign: 'middle', fontSize: size, fontFamily: SANS, fill: '#333' }, o) });
}
const ci = p => '(' + minus(p[0]) + '\u2013' + minus(p[1]) + ')';

// table c
const cLay = { x1: 62, x2: 487, lines: [321.5, 331.5, 345.5, 428.5], groupY: 326.3, headY: 339, rowY0: 352.7, rowDy: 14,
  labelX: 70, rX: [126.7, 253, 380.5], ciX: [188.6, 316.8, 446], groupX: [150, 281, 425] };
hline(cLay.x1, cLay.x2, cLay.lines[0], 1.4, '#8a8a8a');
hline(cLay.x1, cLay.x2, cLay.lines[1], 0.7, '#aaa');
hline(cLay.x1, cLay.x2, cLay.lines[2], 0.7, '#aaa');
hline(cLay.x1, cLay.x2, cLay.lines[3], 1.4, '#8a8a8a');
cGroups.forEach(function (g, j) {
  cell(g, cLay.groupX[j], cLay.groupY, 9, { fontStyle: 'italic' });
  cell("Pearson's r", cLay.rX[j], cLay.headY, 7.5, { fontWeight: 'bold', fill: '#222' });
  cell('CI (95%)', cLay.ciX[j], cLay.headY, 7.5, { fontWeight: 'bold', fill: '#222' });
});
cRows.forEach(function (r, i) {
  const y = cLay.rowY0 + i * cLay.rowDy;
  cell(r, cLay.labelX, y, 7.5, { align: 'left', fontStyle: 'italic', fill: '#444' });
  cR[i].forEach(function (v, j) {
    cell(minus(v), cLay.rX[j], y, 7.5);
    cell(ci(cCI[i][j]), cLay.ciX[j], y, 7.5);
  });
});

// table e
const eLay = { x1: 31, x2: 528, lines: [617.7, 631.7, 645.7], groupY: 624.8, headY: 639, rowY0: 651.7, rowDy: 12.2,
  labelX: 33.3, rX: [78.3, 201.7, 308.8, 435], ciX: [138.3, 260, 378.7, 494], groupX: [116.7, 238.3, 351.4, 477] };
hline(eLay.x1, eLay.x2, eLay.lines[0], 1.4, '#8a8a8a');
hline(eLay.x1, eLay.x2, eLay.lines[1], 0.7, '#aaa');
hline(eLay.x1, eLay.x2, eLay.lines[2], 0.7, '#aaa');
dProteins.forEach(function (g, j) {
  cell(g, eLay.groupX[j], eLay.groupY, 9, { fontWeight: 'bold', fill: '#222' });
  cell("Pearson 's r", eLay.rX[j], eLay.headY, 6.3, { fontWeight: 'bold', fill: '#222' });
  cell('CI (95%)', eLay.ciX[j], eLay.headY, 6.3, { fontWeight: 'bold', fill: '#222' });
});
eRows.forEach(function (r, i) {
  const y = eLay.rowY0 + i * eLay.rowDy;
  cell(r, eLay.labelX, y, 6.6, { align: 'left', fontStyle: 'italic', fill: '#444' });
  eR[i].forEach(function (v, j) {
    cell(minus(v), eLay.rX[j], y, 6.6);
    cell(ci(eCI[i][j]), eLay.ciX[j], y, 6.6);
  });
});

const chart = echarts.init(document.getElementById('main'), null, { renderer: 'canvas' });
chart.setOption({
  backgroundColor: '#fff',
  animation: false,
  grid: grids,
  xAxis: xAxes,
  yAxis: yAxes,
  legend: {
    left: 448, top: 148, orient: 'vertical', padding: [3, 4, 2, 3], itemGap: 0,
    itemWidth: 6, itemHeight: 6, borderColor: '#333', borderWidth: 0.8, backgroundColor: '#fff',
    textStyle: { fontSize: 7.5, lineHeight: 8, color: '#222', fontFamily: SANS },
    data: SUBTYPES.map(function (s) {
      return {
        name: s, icon: SYMBOL[s],
        itemStyle: s === 'Breast' ? { color: '#fff', borderColor: COLOR[s], borderWidth: 1 } : { color: COLOR[s] }
      };
    })
  },
  graphic: graphics,
  series: series
});
</script>
</body>
</html>
